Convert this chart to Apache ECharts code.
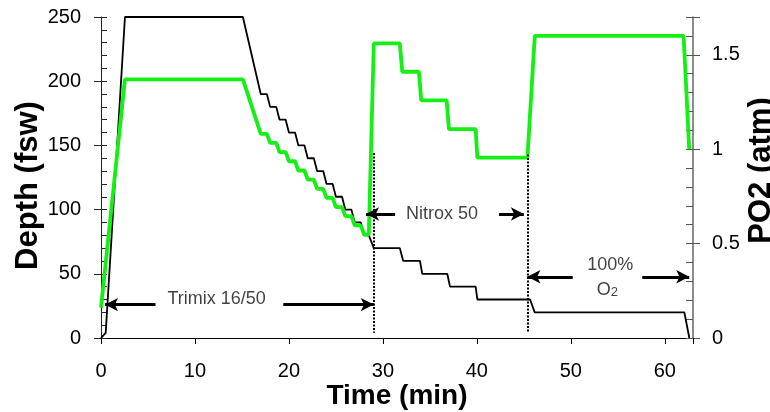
<!DOCTYPE html>
<html><head><meta charset="utf-8">
<script src="https://cdn.jsdelivr.net/npm/echarts@6/dist/echarts.min.js"></script>
<style>html,body{margin:0;padding:0;background:#fff}#c{width:770px;height:412px}</style>
</head><body><div id="c"></div>
<script>
// Depth profile (min, fsw)
const depthTime = [0, 0.5, 2.55, 15.1, 17.0, 17.65, 18.0, 18.65, 19.0, 19.65, 20.0, 20.65, 21.0, 21.65, 22.0, 22.65, 23.0, 23.65, 24.0, 24.65, 25.0, 25.65, 26.0, 26.65, 27.0, 27.65, 28.0, 28.5, 29.03, 31.8, 32.16, 33.94, 34.19, 36.85, 37.14, 39.87, 40.05, 45.66, 46.16, 62.08, 62.61];
const depthFsw  = [0, 4, 250, 250, 190, 190, 180, 180, 170, 170, 160, 160, 150, 150, 140, 140, 130, 130, 120, 120, 110, 110, 100, 100, 90, 90, 80, 80, 70, 70, 60, 60, 50, 50, 40, 40, 30, 30, 20, 20, 0];
// PO2 profile (min, atm)
const po2Time = [0, 2.55, 15.1, 17.0, 17.65, 18.0, 18.65, 19.0, 19.65, 20.0, 20.65, 21.0, 21.65, 22.0, 22.65, 23.0, 23.65, 24.0, 24.65, 25.0, 25.65, 26.0, 26.65, 27.0, 27.65, 28.0, 28.5, 29.03, 31.8, 32.06, 33.83, 34.08, 36.78, 37.03, 39.87, 40.05, 45.38, 46.16, 62.0, 62.6];
const po2Atm  = [0.16, 1.37, 1.37, 1.081, 1.081, 1.033, 1.033, 0.984, 0.984, 0.936, 0.936, 0.887, 0.887, 0.839, 0.839, 0.79, 0.79, 0.742, 0.742, 0.693, 0.693, 0.645, 0.645, 0.596, 0.596, 0.548, 0.548, 1.56, 1.56, 1.41, 1.41, 1.258, 1.258, 1.106, 1.106, 0.955, 0.955, 1.6, 1.6, 1.0];
// Annotations (data coords on time / depth axes)
const labelTexts = ['Trimix 16/50', 'Nitrox 50', '100%', 'O{s|2}'];
const labelTime  = [12.3, 36.3, 54.2, 53.9];
const labelDepth = [30, 96.6, 57, 37.5];
const arrowTail  = [5.8, 19.4, 31.3, 42.36, 50.2, 57.6];
const arrowTip   = [0.43, 29.03, 28.2, 45.0, 45.38, 62.6];
const arrowDepth = [26, 26, 96.6, 96.6, 47.7, 47.7];
const switchTime = [29.05, 45.38];
const switchTop  = [144, 143];
const switchBottom = [4, 4];

const FONT = 'Liberation Sans, Arial, sans-serif';
const chart = echarts.init(document.getElementById('c'), null, {renderer: 'canvas'});

const depthData = depthTime.map((t, i) => [t, depthFsw[i]]);
const po2Data = po2Time.map((t, i) => [t, po2Atm[i]]);
const labelData = labelTexts.map((s, i) => ({value: [labelTime[i], labelDepth[i]], name: s}));
const arrowLines = arrowTail.map((t, i) => [
  {coord: [t, arrowDepth[i]], symbol: 'none'},
  {coord: [arrowTip[i], arrowDepth[i]], symbol: 'arrow'}
]);
const switchLines = switchTime.map((t, i) => [
  {coord: [t, switchTop[i]], symbol: 'none'},
  {coord: [t, switchBottom[i]], symbol: 'none'}
]);

const baseLeft = {min: 0, max: 250, interval: 50};
const baseRight = {min: 0, max: 1.7, interval: 0.5};
const lbl = {fontFamily: FONT, fontSize: 20, color: '#000'};

chart.setOption({
  animation: false,
  backgroundColor: '#fff',
  grid: {left: 101, right: 77, top: 17, bottom: 74, containLabel: false, outerBoundsMode: 'none'},
  xAxis: {
    type: 'value', min: 0, max: 63, interval: 10,
    name: 'Time (min)', nameLocation: 'middle', nameGap: 44, nameMoveOverlap: false,
    nameTextStyle: {fontFamily: FONT, fontSize: 28, fontWeight: 'bold', color: '#000'},
    axisLine: {lineStyle: {color: '#000', width: 1}},
    axisTick: {inside: false, length: 6, lineStyle: {color: '#000'}},
    axisLabel: Object.assign({margin: 23, formatter: v => (Math.round(v) % 10 === 0 ? String(Math.round(v)) : '')}, lbl),
    splitLine: {show: false}
  },
  yAxis: [
    Object.assign({
      type: 'value', position: 'left',
      name: 'Depth (fsw)', nameLocation: 'middle', nameGap: 57, nameRotate: 90, nameMoveOverlap: false,
      nameTextStyle: {fontFamily: FONT, fontSize: 31, fontWeight: 'bold', color: '#000', padding: [0, 16, 0, 0]},
      axisLine: {show: true, onZero: false, lineStyle: {color: '#222', width: 1}},
      axisTick: {inside: true, length: 6, lineStyle: {color: '#222'}},
      minorTick: {show: true, splitNumber: 5, length: 6, lineStyle: {color: '#222'}},
      axisLabel: Object.assign({margin: 20}, lbl),
      splitLine: {show: false}, minorSplitLine: {show: false}
    }, baseLeft),
    Object.assign({
      type: 'value', position: 'right',
      name: 'PO2 (atm)', nameLocation: 'middle', nameGap: 53, nameRotate: 90, nameMoveOverlap: false,
      nameTextStyle: {fontFamily: FONT, fontSize: 31, fontWeight: 'bold', color: '#000', padding: [0, 0, 0, 14]},
      axisLine: {show: true, onZero: false, lineStyle: {color: '#666', width: 1.5}},
      axisTick: {inside: true, length: 7, lineStyle: {color: '#555'}},
      minorTick: {show: true, splitNumber: 5, length: 7, lineStyle: {color: '#555'}},
      axisLabel: Object.assign({margin: 19, formatter: v => (Math.round(v * 10) % 5 === 0 ? String(Math.round(v * 10) / 10) : '')}, lbl),
      splitLine: {show: false}, minorSplitLine: {show: false}
    }, baseRight),
    Object.assign({
      type: 'value', position: 'left',
      axisLine: {show: false}, axisLabel: {show: false},
      axisTick: {show: true, inside: false, length: 7, lineStyle: {color: '#222'}},
      splitLine: {show: false}
    }, baseLeft),
    Object.assign({
      type: 'value', position: 'right',
      axisLine: {show: false}, axisLabel: {show: false},
      axisTick: {show: true, inside: false, length: 7, lineStyle: {color: '#555'}},
      splitLine: {show: false}
    }, baseRight)
  ],
  series: [
    {
      name: 'Depth', type: 'line', xAxisIndex: 0, yAxisIndex: 0,
      data: depthData, showSymbol: false, symbol: 'none', z: 3,
      lineStyle: {color: '#000', width: 1.8},
      markLine: {
        silent: true, animation: false,
        symbol: ['none', 'arrow'], symbolSize: [10, 13],
        label: {show: false},
        lineStyle: {color: '#000', width: 3, type: 'solid'},
        emphasis: {disabled: true},
        data: arrowLines
      }
    },
    {
      name: 'PO2', type: 'line', xAxisIndex: 0, yAxisIndex: 1,
      data: po2Data, showSymbol: false, symbol: 'none', z: 4,
      lineStyle: {color: '#14f014', width: 3.8}
    },
    {
      name: 'Labels', type: 'scatter', xAxisIndex: 0, yAxisIndex: 0,
      data: labelData, symbolSize: 0, z: 6, silent: true,
      label: {
        show: true, position: 'inside', formatter: '{b}',
        fontFamily: FONT, fontSize: 18, color: '#111',
        rich: {s: {fontFamily: FONT, fontSize: 13, color: '#111', verticalAlign: 'bottom'}}
      },
      markLine: {
        silent: true, animation: false, symbol: ['none', 'none'],
        label: {show: false},
        lineStyle: {color: '#000', width: 2, type: [2, 1.5]},
        emphasis: {disabled: true},
        data: switchLines
      }
    }
  ]
});
</script></body></html>
